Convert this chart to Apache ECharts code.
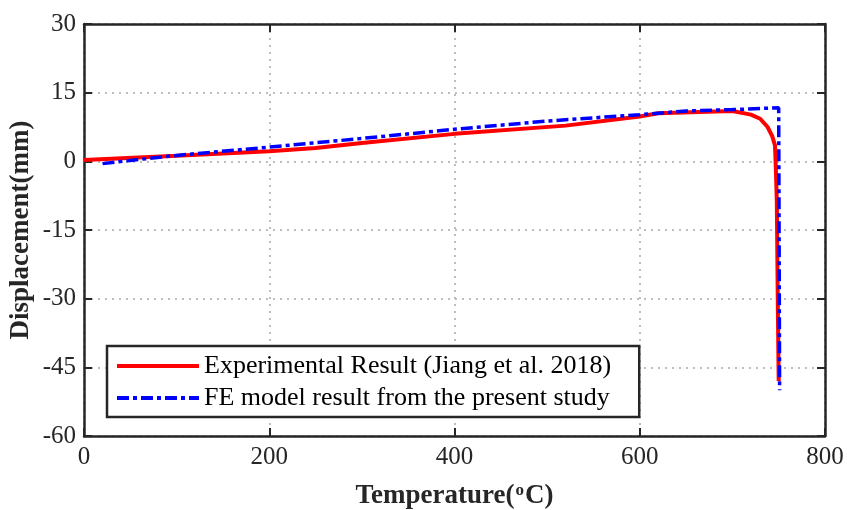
<!DOCTYPE html>
<html>
<head>
<meta charset="utf-8">
<script src="https://cdn.jsdelivr.net/npm/echarts@6/dist/echarts.min.js"></script>
<style>html,body{margin:0;padding:0;background:#fff;}#c{width:847px;height:510px;}</style>
</head>
<body>
<div id="c"></div>
<script>
// Experimental result (Jiang et al. 2018)
var expTemp = [0, 100, 200, 250, 300, 400, 520, 600, 620, 700, 720, 730, 738, 743, 746, 747, 748, 749, 750];
var expDisp = [0.3, 1.2, 2.2, 2.9, 4.0, 6.0, 7.8, 9.8, 10.5, 11.0, 10.2, 9.3, 7.5, 5.5, 3.5, -2, -9, -30, -48];
// FE model result
var feTemp = [20, 50, 100, 200, 300, 400, 500, 600, 650, 700, 750, 751];
var feDisp = [-0.5, 0.2, 1.3, 3.1, 5.0, 7.0, 8.8, 10.2, 11.0, 11.3, 11.7, -50];
var xTicks = [0, 200, 400, 600, 800];
var yTicks = [-60, -45, -30, -15, 0, 15, 30];
var seriesNames = ['Experimental Result (Jiang et al. 2018)', 'FE model result from the present study'];

function pairs(xs, ys) { return xs.map(function (x, i) { return [x, ys[i]]; }); }

var font = 'Liberation Serif, Times New Roman, serif';
var axisCol = '#262626';
var gridLine = {show: true, lineStyle: {color: '#a8a8a8', width: 1.5, type: [2, 5]}};
function tick() { return {show: true, inside: true, length: 8, lineStyle: {color: axisCol, width: 2}}; }
function line() { return {show: true, onZero: false, lineStyle: {color: axisCol, width: 2.5}}; }

var chart = echarts.init(document.getElementById('c'), null, {renderer: 'canvas'});
chart.setOption({
  animation: false,
  backgroundColor: '#fff',
  grid: {left: 84, right: 22, top: 24, bottom: 74, show: false, containLabel: false, outerBoundsMode: 'none'},
  xAxis: [{
    type: 'value', min: xTicks[0], max: xTicks[xTicks.length - 1], interval: 200, position: 'bottom',
    name: '{a|Temperature(}{s|o}{a|C)}', nameLocation: 'middle', nameGap: 46, nameMoveOverlap: false,
    nameTextStyle: {rich: {
      a: {fontFamily: font, fontSize: 27, fontWeight: 'bold', color: axisCol},
      s: {fontFamily: font, fontSize: 17, fontWeight: 'bold', color: axisCol, verticalAlign: 'top', padding: [0, 1, 12, 1]}
    }},
    axisLine: line(), axisTick: tick(),
    axisLabel: {fontFamily: font, fontSize: 25, color: axisCol, margin: 9},
    splitLine: gridLine
  }, {
    type: 'value', min: 0, max: 800, interval: 200, position: 'top',
    axisLine: line(), axisTick: tick(),
    axisLabel: {show: false}, splitLine: {show: false}
  }],
  yAxis: [{
    type: 'value', min: yTicks[0], max: yTicks[yTicks.length - 1], interval: 15, position: 'left',
    name: 'Displacement(mm)', nameLocation: 'middle', nameGap: 49, nameMoveOverlap: false,
    nameTextStyle: {fontFamily: font, fontSize: 27, fontWeight: 'bold', color: axisCol},
    axisLine: line(), axisTick: tick(),
    axisLabel: {fontFamily: font, fontSize: 25, color: axisCol, margin: 8},
    splitLine: gridLine
  }, {
    type: 'value', min: -60, max: 30, interval: 15, position: 'right',
    axisLine: line(), axisTick: tick(),
    axisLabel: {show: false}, splitLine: {show: false}
  }],
  legend: {
    orient: 'vertical', left: 107, top: 346,
    backgroundColor: '#fff', borderColor: axisCol, borderWidth: 2.5, borderRadius: 0,
    padding: [7, 28, 6, 8], itemGap: 6, itemWidth: 82, itemHeight: 26,
    itemStyle: {opacity: 0},
    lineStyle: {width: 4},
    textStyle: {fontFamily: font, fontSize: 26, color: '#000'},
    data: seriesNames
  },
  series: [{
    name: seriesNames[0], type: 'line', data: pairs(expTemp, expDisp),
    showSymbol: false, symbol: 'none', z: 3,
    lineStyle: {color: '#ff0000', width: 4}, itemStyle: {color: '#ff0000'}
  }, {
    name: seriesNames[1], type: 'line', data: pairs(feTemp, feDisp),
    showSymbol: false, symbol: 'none', z: 4,
    lineStyle: {color: '#0000ff', width: 3.5, type: [12, 4, 4, 4]}, itemStyle: {color: '#0000ff'}
  }]
});
</script>
</body>
</html>
